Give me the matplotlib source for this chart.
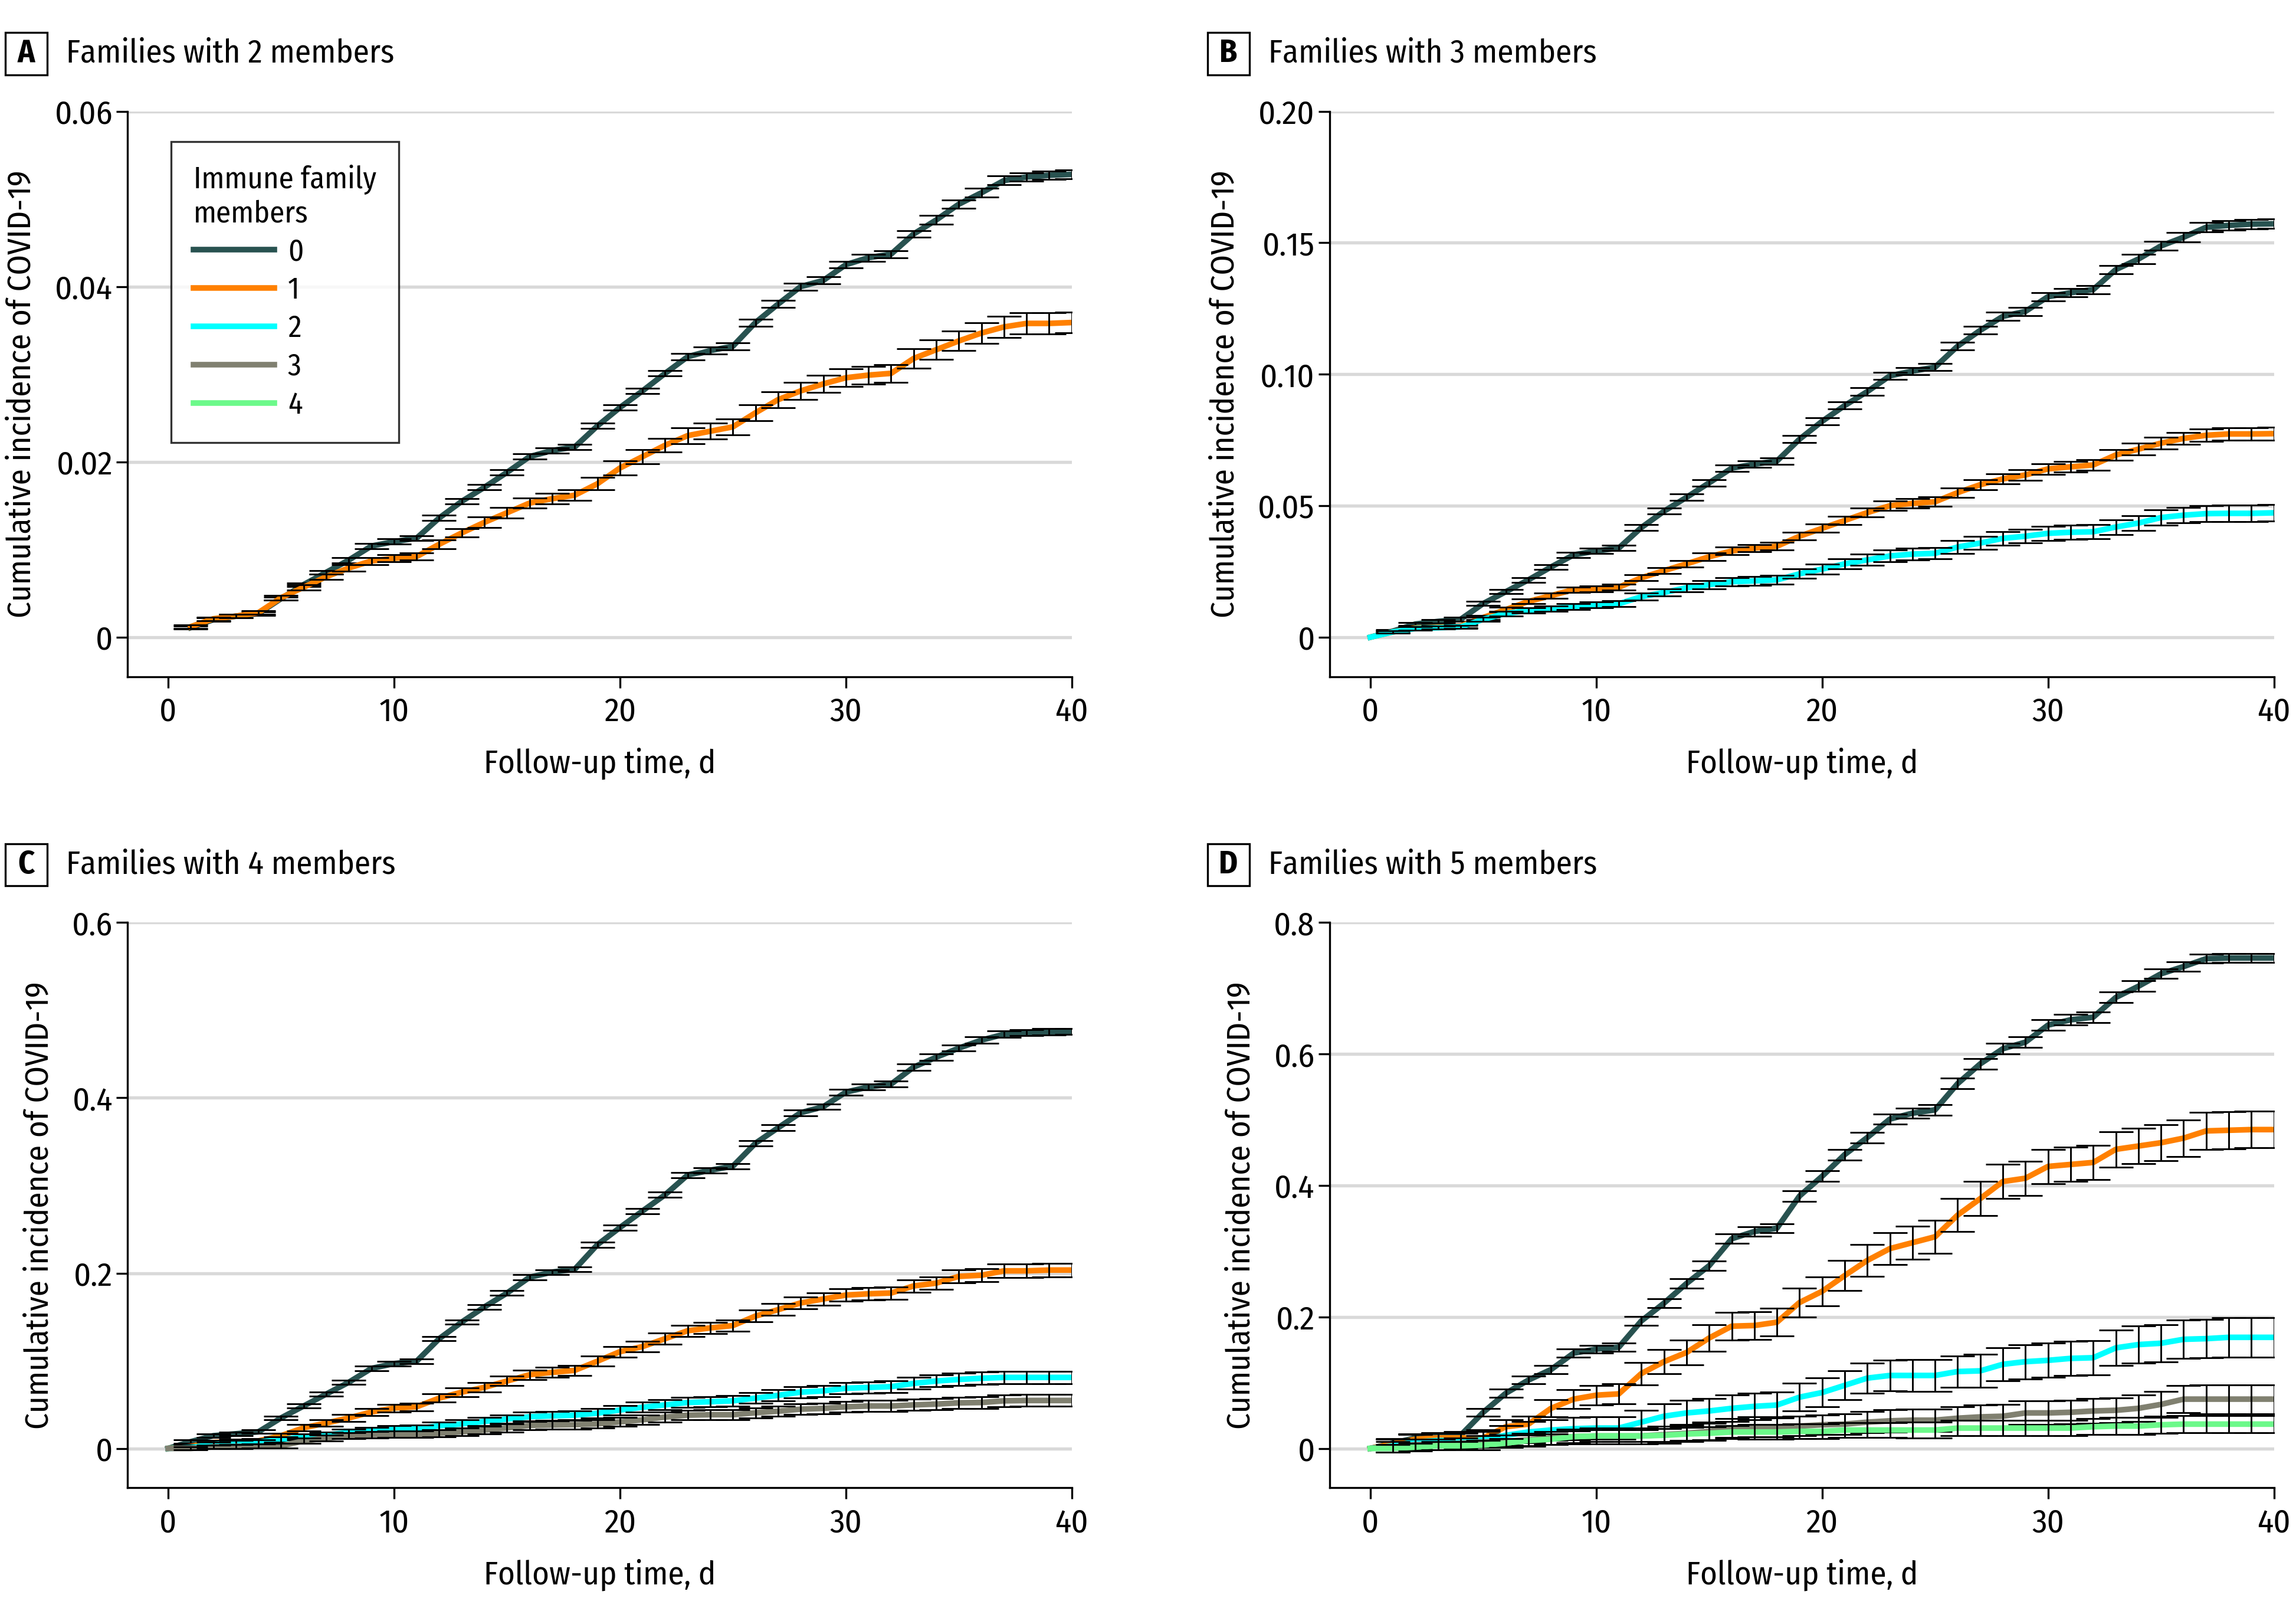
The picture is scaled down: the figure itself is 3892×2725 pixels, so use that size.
import matplotlib
matplotlib.use("Agg")
import matplotlib.pyplot as plt
from matplotlib.patches import Rectangle
from matplotlib.lines import Line2D

plt.rcParams['font.family'] = ['Fira Sans Condensed', 'DejaVu Sans']

# follow-up days
days = list(range(0, 41))
days_a = list(range(1, 41))
err_days = list(range(1, 41))

group_labels = ["0", "1", "2", "3", "4"]
group_colors = ["#285250", "#ff8000", "#00ffff", "#808070", "#6cf98a"]

# A: families with 2 members (starts at day 1)
a0 = [0.0011, 0.0020, 0.0024, 0.0027, 0.0044, 0.0060, 0.0074, 0.0088, 0.0104, 0.0109,
      0.0113, 0.0136, 0.0155, 0.0171, 0.0188, 0.0206, 0.0213, 0.0217, 0.0241, 0.0262,
      0.0281, 0.0301, 0.0320, 0.0327, 0.0332, 0.0359, 0.0380, 0.0400, 0.0407, 0.0425,
      0.0433, 0.0437, 0.0460, 0.0476, 0.0494, 0.0507, 0.0521, 0.0525, 0.0527, 0.0528]
a1 = [0.0012, 0.0021, 0.0024, 0.0028, 0.0045, 0.0057, 0.0069, 0.0079, 0.0087, 0.0090,
      0.0092, 0.0106, 0.0119, 0.0131, 0.0142, 0.0153, 0.0158, 0.0162, 0.0175, 0.0193,
      0.0206, 0.0219, 0.0230, 0.0235, 0.0240, 0.0256, 0.0271, 0.0281, 0.0289, 0.0296,
      0.0299, 0.0301, 0.0318, 0.0328, 0.0338, 0.0347, 0.0354, 0.0358, 0.0358, 0.0359]
a0_err = [0.0002, 0.0002, 0.0002, 0.0002, 0.0002, 0.0002, 0.0002, 0.0003, 0.0003, 0.0003,
          0.0003, 0.0003, 0.0003, 0.0003, 0.0003, 0.0003, 0.0003, 0.0003, 0.0003, 0.0003,
          0.0003, 0.0003, 0.0004, 0.0004, 0.0004, 0.0004, 0.0004, 0.0004, 0.0004, 0.0004,
          0.0004, 0.0004, 0.0004, 0.0005, 0.0005, 0.0005, 0.0005, 0.0005, 0.0005, 0.0005]
a1_err = [0.0002, 0.0002, 0.0002, 0.0002, 0.0003, 0.0003, 0.0003, 0.0004, 0.0004, 0.0004,
          0.0004, 0.0005, 0.0005, 0.0006, 0.0006, 0.0006, 0.0006, 0.0006, 0.0007, 0.0008,
          0.0008, 0.0008, 0.0009, 0.0009, 0.0009, 0.0009, 0.0009, 0.0010, 0.0010, 0.0010,
          0.0010, 0.0010, 0.0011, 0.0011, 0.0011, 0.0012, 0.0012, 0.0012, 0.0012, 0.0012]

# B: families with 3 members
b0 = [0, 0.0023, 0.0050, 0.0060, 0.0068, 0.0128, 0.0173, 0.0218, 0.0267, 0.0313, 0.0328,
      0.0339, 0.0417, 0.0479, 0.0532, 0.0587, 0.0643, 0.0658, 0.0670, 0.0753, 0.0821,
      0.0881, 0.0934, 0.0994, 0.1012, 0.1027, 0.1107, 0.1167, 0.1220, 0.1239, 0.1295,
      0.1310, 0.1322, 0.1398, 0.1438, 0.1488, 0.1521, 0.1559, 0.1566, 0.1571, 0.1572]
b1 = [0, 0.0020, 0.0035, 0.0038, 0.0042, 0.0075, 0.0105, 0.0136, 0.0158, 0.0181, 0.0184,
      0.0190, 0.0226, 0.0253, 0.0279, 0.0306, 0.0328, 0.0339, 0.0346, 0.0384, 0.0414,
      0.0444, 0.0474, 0.0500, 0.0509, 0.0515, 0.0550, 0.0580, 0.0602, 0.0617, 0.0640,
      0.0648, 0.0655, 0.0693, 0.0715, 0.0738, 0.0756, 0.0768, 0.0773, 0.0773, 0.0774]
b2 = [0, 0.0020, 0.0033, 0.0036, 0.0039, 0.0068, 0.0090, 0.0102, 0.0108, 0.0117, 0.0123,
      0.0127, 0.0154, 0.0170, 0.0188, 0.0200, 0.0211, 0.0214, 0.0218, 0.0241, 0.0259,
      0.0279, 0.0294, 0.0309, 0.0316, 0.0319, 0.0343, 0.0358, 0.0376, 0.0384, 0.0395,
      0.0399, 0.0401, 0.0419, 0.0434, 0.0455, 0.0464, 0.0470, 0.0471, 0.0471, 0.0473]
b0_err = [0.0006, 0.0006, 0.0007, 0.0007, 0.0008, 0.0008, 0.0009, 0.0009, 0.0010, 0.0010,
          0.0010, 0.0011, 0.0011, 0.0012, 0.0012, 0.0012, 0.0012, 0.0012, 0.0013, 0.0013,
          0.0014, 0.0014, 0.0014, 0.0014, 0.0014, 0.0015, 0.0015, 0.0015, 0.0016, 0.0016,
          0.0016, 0.0016, 0.0016, 0.0017, 0.0017, 0.0017, 0.0018, 0.0018, 0.0018, 0.0018]
b1_err = [0.0005, 0.0006, 0.0006, 0.0006, 0.0007, 0.0008, 0.0009, 0.0010, 0.0010, 0.0011,
          0.0011, 0.0012, 0.0012, 0.0013, 0.0014, 0.0014, 0.0014, 0.0015, 0.0015, 0.0016,
          0.0016, 0.0017, 0.0017, 0.0018, 0.0018, 0.0018, 0.0019, 0.0019, 0.0020, 0.0020,
          0.0020, 0.0021, 0.0021, 0.0022, 0.0022, 0.0023, 0.0023, 0.0024, 0.0024, 0.0024]
b2_err = [0.0005, 0.0006, 0.0006, 0.0006, 0.0008, 0.0009, 0.0010, 0.0010, 0.0011, 0.0011,
          0.0011, 0.0013, 0.0014, 0.0015, 0.0016, 0.0016, 0.0017, 0.0017, 0.0018, 0.0019,
          0.0020, 0.0021, 0.0022, 0.0022, 0.0022, 0.0024, 0.0025, 0.0026, 0.0026, 0.0027,
          0.0027, 0.0027, 0.0028, 0.0029, 0.0030, 0.0030, 0.0031, 0.0031, 0.0032, 0.0032]

# C: families with 4 members
c0 = [0, 0.0077, 0.0145, 0.0167, 0.0190, 0.0348, 0.0484, 0.0620, 0.0755, 0.0913, 0.0968,
      0.0995, 0.1252, 0.1442, 0.1614, 0.1772, 0.1953, 0.2012, 0.2044, 0.2324, 0.2520,
      0.2709, 0.2894, 0.3120, 0.3174, 0.3220, 0.3482, 0.3658, 0.3830, 0.3898, 0.4065,
      0.4124, 0.4156, 0.4350, 0.4463, 0.4567, 0.4658, 0.4725, 0.4744, 0.4753, 0.4757]
c1 = [0, 0.0023, 0.0068, 0.0077, 0.0086, 0.0145, 0.0235, 0.0290, 0.0348, 0.0416, 0.0461,
      0.0475, 0.0574, 0.0642, 0.0697, 0.0769, 0.0841, 0.0868, 0.0891, 0.0995, 0.1104,
      0.1162, 0.1252, 0.1343, 0.1375, 0.1402, 0.1510, 0.1583, 0.1660, 0.1705, 0.1750,
      0.1764, 0.1773, 0.1854, 0.1886, 0.1963, 0.1976, 0.2026, 0.2026, 0.2035, 0.2035]
c2 = [0, 0.0010, 0.0045, 0.0063, 0.0072, 0.0100, 0.0131, 0.0154, 0.0181, 0.0199, 0.0217,
      0.0226, 0.0258, 0.0280, 0.0308, 0.0335, 0.0362, 0.0371, 0.0380, 0.0402, 0.0438,
      0.0470, 0.0497, 0.0524, 0.0533, 0.0543, 0.0574, 0.0606, 0.0642, 0.0656, 0.0687,
      0.0696, 0.0705, 0.0742, 0.0769, 0.0787, 0.0801, 0.0810, 0.0810, 0.0810, 0.0810]
c3 = [0, 0.0000, 0.0018, 0.0023, 0.0027, 0.0030, 0.0086, 0.0118, 0.0145, 0.0158, 0.0163,
      0.0163, 0.0172, 0.0190, 0.0208, 0.0235, 0.0262, 0.0267, 0.0271, 0.0280, 0.0303,
      0.0326, 0.0358, 0.0380, 0.0385, 0.0385, 0.0407, 0.0425, 0.0448, 0.0457, 0.0475,
      0.0484, 0.0484, 0.0497, 0.0506, 0.0520, 0.0524, 0.0543, 0.0547, 0.0547, 0.0547]
c0_err = [0.0020, 0.0020, 0.0020, 0.0020, 0.0022, 0.0022, 0.0024, 0.0024, 0.0025, 0.0025,
          0.0025, 0.0026, 0.0026, 0.0027, 0.0027, 0.0028, 0.0028, 0.0028, 0.0029, 0.0029,
          0.0030, 0.0030, 0.0031, 0.0031, 0.0031, 0.0032, 0.0032, 0.0033, 0.0033, 0.0034,
          0.0034, 0.0034, 0.0035, 0.0035, 0.0035, 0.0036, 0.0036, 0.0036, 0.0036, 0.0036]
c1_err = [0.0020, 0.0025, 0.0025, 0.0025, 0.0030, 0.0035, 0.0038, 0.0040, 0.0042, 0.0044,
          0.0044, 0.0047, 0.0049, 0.0051, 0.0053, 0.0055, 0.0056, 0.0056, 0.0058, 0.0060,
          0.0061, 0.0062, 0.0064, 0.0065, 0.0065, 0.0066, 0.0067, 0.0068, 0.0069, 0.0070,
          0.0070, 0.0070, 0.0072, 0.0073, 0.0074, 0.0075, 0.0076, 0.0076, 0.0077, 0.0077]
c2_err = [0.0020, 0.0025, 0.0027, 0.0028, 0.0030, 0.0032, 0.0034, 0.0036, 0.0038, 0.0040,
          0.0040, 0.0042, 0.0044, 0.0046, 0.0048, 0.0050, 0.0051, 0.0051, 0.0052, 0.0054,
          0.0056, 0.0057, 0.0058, 0.0059, 0.0059, 0.0061, 0.0062, 0.0063, 0.0064, 0.0065,
          0.0065, 0.0066, 0.0067, 0.0068, 0.0069, 0.0069, 0.0070, 0.0070, 0.0070, 0.0070]
c3_err = [0.0018, 0.0022, 0.0024, 0.0025, 0.0027, 0.0030, 0.0033, 0.0035, 0.0037, 0.0038,
          0.0038, 0.0040, 0.0042, 0.0044, 0.0046, 0.0048, 0.0049, 0.0049, 0.0050, 0.0052,
          0.0054, 0.0055, 0.0056, 0.0057, 0.0057, 0.0058, 0.0059, 0.0060, 0.0061, 0.0062,
          0.0062, 0.0063, 0.0064, 0.0065, 0.0066, 0.0066, 0.0067, 0.0067, 0.0068, 0.0068]

# D: families with 5 members
d0 = [0, 0.008, 0.016, 0.018, 0.020, 0.055, 0.084, 0.104, 0.120, 0.145, 0.151,
      0.154, 0.194, 0.221, 0.251, 0.278, 0.319, 0.330, 0.335, 0.384, 0.414,
      0.447, 0.473, 0.501, 0.510, 0.515, 0.555, 0.585, 0.608, 0.618, 0.644,
      0.652, 0.656, 0.686, 0.703, 0.722, 0.733, 0.745, 0.746, 0.746, 0.746]
d1 = [0, 0.007, 0.014, 0.016, 0.016, 0.016, 0.033, 0.037, 0.061, 0.075, 0.081,
      0.083, 0.114, 0.132, 0.146, 0.168, 0.186, 0.187, 0.192, 0.222, 0.239,
      0.263, 0.286, 0.304, 0.313, 0.322, 0.355, 0.380, 0.406, 0.411, 0.429,
      0.432, 0.435, 0.455, 0.460, 0.465, 0.472, 0.483, 0.484, 0.485, 0.485]
d2 = [0, 0.004, 0.010, 0.012, 0.012, 0.013, 0.020, 0.025, 0.028, 0.030, 0.031,
      0.031, 0.040, 0.049, 0.054, 0.057, 0.061, 0.064, 0.066, 0.078, 0.085,
      0.096, 0.107, 0.111, 0.111, 0.111, 0.117, 0.118, 0.128, 0.132, 0.134,
      0.137, 0.138, 0.153, 0.158, 0.160, 0.166, 0.167, 0.169, 0.169, 0.169]
d3 = [0, 0.002, 0.006, 0.006, 0.008, 0.010, 0.011, 0.013, 0.016, 0.018, 0.019,
      0.019, 0.019, 0.021, 0.023, 0.026, 0.031, 0.033, 0.033, 0.034, 0.036,
      0.037, 0.040, 0.042, 0.043, 0.043, 0.046, 0.048, 0.049, 0.054, 0.054,
      0.055, 0.057, 0.058, 0.061, 0.067, 0.075, 0.075, 0.075, 0.075, 0.075]
d4 = [0, 0.000, 0.002, 0.004, 0.004, 0.005, 0.008, 0.012, 0.014, 0.018, 0.019,
      0.019, 0.019, 0.020, 0.022, 0.023, 0.025, 0.025, 0.025, 0.026, 0.026,
      0.028, 0.028, 0.028, 0.028, 0.028, 0.031, 0.031, 0.031, 0.031, 0.031,
      0.031, 0.033, 0.034, 0.034, 0.036, 0.037, 0.037, 0.037, 0.037, 0.037]
d0_err = [0.006, 0.006, 0.006, 0.006, 0.006, 0.006, 0.006, 0.006, 0.006, 0.006,
          0.006, 0.007, 0.007, 0.007, 0.007, 0.007, 0.007, 0.007, 0.008, 0.008,
          0.008, 0.008, 0.008, 0.008, 0.008, 0.008, 0.008, 0.008, 0.008, 0.008,
          0.008, 0.008, 0.008, 0.008, 0.007, 0.007, 0.007, 0.007, 0.007, 0.007]
d1_err = [0.008, 0.008, 0.008, 0.008, 0.010, 0.011, 0.012, 0.013, 0.014, 0.015,
          0.015, 0.017, 0.018, 0.019, 0.020, 0.021, 0.021, 0.021, 0.022, 0.022,
          0.023, 0.024, 0.024, 0.025, 0.025, 0.025, 0.026, 0.026, 0.026, 0.026,
          0.026, 0.026, 0.027, 0.027, 0.027, 0.028, 0.028, 0.028, 0.028, 0.028]
d2_err = [0.010, 0.011, 0.011, 0.011, 0.015, 0.015, 0.016, 0.016, 0.017, 0.017,
          0.017, 0.018, 0.019, 0.019, 0.019, 0.020, 0.020, 0.020, 0.021, 0.022,
          0.022, 0.023, 0.023, 0.024, 0.024, 0.024, 0.025, 0.025, 0.026, 0.026,
          0.026, 0.026, 0.027, 0.028, 0.028, 0.029, 0.029, 0.030, 0.030, 0.030]
d3_err = [0.008, 0.008, 0.008, 0.008, 0.009, 0.009, 0.010, 0.010, 0.011, 0.012,
          0.012, 0.012, 0.013, 0.013, 0.014, 0.014, 0.015, 0.015, 0.015, 0.015,
          0.016, 0.016, 0.017, 0.017, 0.017, 0.017, 0.018, 0.018, 0.018, 0.018,
          0.018, 0.019, 0.019, 0.020, 0.020, 0.021, 0.022, 0.022, 0.022, 0.022]
d4_err = [0.006, 0.006, 0.006, 0.006, 0.007, 0.007, 0.008, 0.008, 0.009, 0.009,
          0.009, 0.009, 0.010, 0.010, 0.010, 0.010, 0.011, 0.011, 0.011, 0.011,
          0.011, 0.011, 0.011, 0.012, 0.012, 0.012, 0.012, 0.012, 0.012, 0.012,
          0.012, 0.012, 0.013, 0.013, 0.013, 0.013, 0.013, 0.013, 0.013, 0.013]

a_ticks = [0, 0.02, 0.04, 0.06]
a_ticklabels = ["0", "0.02", "0.04", "0.06"]
b_ticks = [0, 0.05, 0.10, 0.15, 0.20]
b_ticklabels = ["0", "0.05", "0.10", "0.15", "0.20"]
c_ticks = [0, 0.2, 0.4, 0.6]
c_ticklabels = ["0", "0.2", "0.4", "0.6"]
d_ticks = [0, 0.2, 0.4, 0.6, 0.8]
d_ticklabels = ["0", "0.2", "0.4", "0.6", "0.8"]
x_ticks = [0, 10, 20, 30, 40]

panels = [
    ("A", "Families with 2 members", days_a, [a0, a1], [a0_err, a1_err], a_ticks, a_ticklabels),
    ("B", "Families with 3 members", days, [b0, b1, b2], [b0_err, b1_err, b2_err], b_ticks, b_ticklabels),
    ("C", "Families with 4 members", days, [c0, c1, c2, c3], [c0_err, c1_err, c2_err, c3_err], c_ticks, c_ticklabels),
    ("D", "Families with 5 members", days, [d0, d1, d2, d3, d4], [d0_err, d1_err, d2_err, d3_err, d4_err], d_ticks, d_ticklabels),
]

fig = plt.figure(figsize=(3892 / 300, 2725 / 300), dpi=300)

# axes rectangles and title offsets in figure fractions
ax_pos = [(0.0555, 0.5792), (0.5791, 0.5792), (0.0555, 0.0747), (0.5791, 0.0747)]
ax_w, ax_h = 0.4113, 0.3516
title_dx = 0.5791 - 0.0555
title_dy = 0.5792 - 0.0747

for i, (letter, title, xs, series, errs, yt, ytl) in enumerate(panels):
    x0, y0 = ax_pos[i]
    ax = fig.add_axes([x0, y0, ax_w, ax_h])
    ymax = yt[-1]
    ax.set_xlim(-1.8, 40)
    ax.set_ylim(-0.075 * ymax, ymax)

    for k, (vals, err) in enumerate(zip(series, errs)):
        ax.plot(xs, vals, color=group_colors[k], lw=2.3, solid_joinstyle='round',
                label=group_labels[k], zorder=3 + k)
        ev = vals[-40:]
        ax.errorbar(err_days, ev, yerr=err, fmt='none', ecolor='black',
                    elinewidth=0.7, capsize=7, capthick=0.7, zorder=3 + k)

    ax.set_yticks(yt)
    ax.set_yticklabels(ytl)
    ax.set_xticks(x_ticks)
    ax.yaxis.grid(True, color='#d9d9d9', lw=1.3)
    ax.set_axisbelow(True)
    for s in ['top', 'right']:
        ax.spines[s].set_visible(False)
    for s in ['left', 'bottom']:
        ax.spines[s].set_linewidth(0.8)
    ax.tick_params(direction='out', length=4.5, width=0.8, labelsize=13.5, pad=3.5)
    ax.tick_params(axis='y', pad=1.5)
    ax.set_xlabel("Follow-up time, d", fontsize=13.2, labelpad=8)
    ax.set_ylabel("Cumulative incidence of COVID-19", fontsize=13.2, labelpad=7)

    # panel letter box and title
    bx = 0.0023 + (title_dx if i % 2 else 0)
    by = 0.9535 - (title_dy if i >= 2 else 0)
    fig.patches.append(Rectangle((bx, by), 0.0182, 0.0264, transform=fig.transFigure,
                                 fill=False, edgecolor='black', lw=0.8))
    fig.text(bx + 0.0091, by + 0.0132, letter, ha='center', va='center',
             fontsize=13, fontweight='bold')
    fig.text(bx + 0.0265, by + 0.0132, title, ha='left', va='center', fontsize=13.2)

    if i == 0:
        handles = [Line2D([0], [0], color=c, lw=2.3) for c in group_colors]
        leg = ax.legend(handles, group_labels, title="Immune family\nmembers",
                        loc='upper left', bbox_to_anchor=(0.046, 0.946),
                        borderaxespad=0, fontsize=12.2, title_fontsize=12.2,
                        frameon=True, fancybox=False, edgecolor='black',
                        handlelength=2.7, handletextpad=0.45, labelspacing=0.3,
                        alignment='left', borderpad=0.75)
        leg.get_frame().set_linewidth(0.8)

fig.savefig("out.png", dpi=300)
